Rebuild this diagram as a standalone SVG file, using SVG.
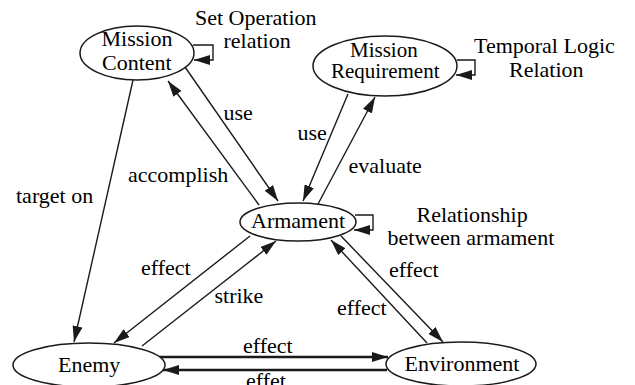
<svg xmlns="http://www.w3.org/2000/svg" width="635" height="385" viewBox="0 0 635 385">
<style>
.n ellipse{fill:#fff;stroke:#1a1a1a;stroke-width:1.5}
.c line,.c path{stroke:#1a1a1a;stroke-width:1.4;fill:none}
.c .thick{stroke-width:2.6}
</style>
<defs>
<marker id="ah" viewBox="0 0 16 10" refX="16" refY="5" markerWidth="16" markerHeight="10" markerUnits="userSpaceOnUse" orient="auto">
<path d="M0,0 L16,5 L0,10 z" fill="#1a1a1a"/>
</marker>
</defs>
<rect width="635" height="385" fill="#fff"/>
<g class="c" id="connectors">
<line x1="133" y1="80" x2="74" y2="342" marker-end="url(#ah)"/>
<line x1="185" y1="67" x2="278" y2="201" marker-end="url(#ah)"/>
<line x1="259" y1="205" x2="168" y2="81" marker-end="url(#ah)"/>
<line x1="348" y1="94" x2="303" y2="201" marker-end="url(#ah)"/>
<line x1="318" y1="204" x2="375" y2="97" marker-end="url(#ah)"/>
<line x1="250" y1="236" x2="114" y2="343" marker-end="url(#ah)"/>
<line x1="142" y1="346" x2="276" y2="241" marker-end="url(#ah)"/>
<line x1="341" y1="236" x2="443" y2="342" marker-end="url(#ah)"/>
<line x1="427" y1="343" x2="331" y2="240" marker-end="url(#ah)"/>
<line class="thick" x1="160" y1="357" x2="388" y2="357" marker-end="url(#ah)"/>
<line class="thick" x1="387" y1="370" x2="163" y2="370" marker-end="url(#ah)"/>
<path d="M193,45 H213 V60 H194" marker-end="url(#ah)"/>
<path d="M457,60 H475 V75 H456" marker-end="url(#ah)"/>
<path d="M355,215 H373 V230 H354" marker-end="url(#ah)"/>
</g>
<g class="n" id="mission-content">
<ellipse cx="137" cy="53" rx="57" ry="27"/>
<text x="101.5" y="46" font-family="Liberation Serif" font-size="22">Mission</text>
<text x="102" y="70" font-family="Liberation Serif" font-size="22">Content</text>
</g>
<g class="n" id="mission-requirement">
<ellipse cx="385" cy="66" rx="72" ry="30"/>
<text x="350" y="57" font-family="Liberation Serif" font-size="21">Mission</text>
<text x="331" y="78" font-family="Liberation Serif" font-size="21">Requirement</text>
</g>
<g class="n" id="armament">
<ellipse cx="298" cy="222" rx="58" ry="19"/>
<text x="251" y="228" font-family="Liberation Serif" font-size="22">Armament</text>
</g>
<g class="n" id="enemy">
<ellipse cx="89" cy="365" rx="76" ry="22"/>
<text x="58" y="372" font-family="Liberation Serif" font-size="22">Enemy</text>
</g>
<g class="n" id="environment">
<ellipse cx="461" cy="364" rx="75" ry="22"/>
<text x="404.5" y="371" font-family="Liberation Serif" font-size="22">Environment</text>
</g>
<g id="labels">
<text x="195" y="25" font-family="Liberation Serif" font-size="22">Set Operation</text>
<text x="223.5" y="48" font-family="Liberation Serif" font-size="22">relation</text>
<text x="474" y="53" font-family="Liberation Serif" font-size="22">Temporal Logic</text>
<text x="509" y="77" font-family="Liberation Serif" font-size="22">Relation</text>
<text x="416.5" y="222" font-family="Liberation Serif" font-size="22">Relationship</text>
<text x="387.5" y="245" font-family="Liberation Serif" font-size="22">between armament</text>
<text x="223.5" y="120" font-family="Liberation Serif" font-size="22">use</text>
<text x="297.5" y="140" font-family="Liberation Serif" font-size="22">use</text>
<text x="128" y="182" font-family="Liberation Serif" font-size="22">accomplish</text>
<text x="348.5" y="173" font-family="Liberation Serif" font-size="22">evaluate</text>
<text x="16" y="203" font-family="Liberation Serif" font-size="22">target on</text>
<text x="141" y="275" font-family="Liberation Serif" font-size="22">effect</text>
<text x="214.5" y="303" font-family="Liberation Serif" font-size="22">strike</text>
<text x="389" y="277" font-family="Liberation Serif" font-size="22">effect</text>
<text x="337" y="315" font-family="Liberation Serif" font-size="22">effect</text>
<text x="243" y="353" font-family="Liberation Serif" font-size="22">effect</text>
<text x="246" y="388" font-family="Liberation Serif" font-size="22">effet</text>
</g>
</svg>
